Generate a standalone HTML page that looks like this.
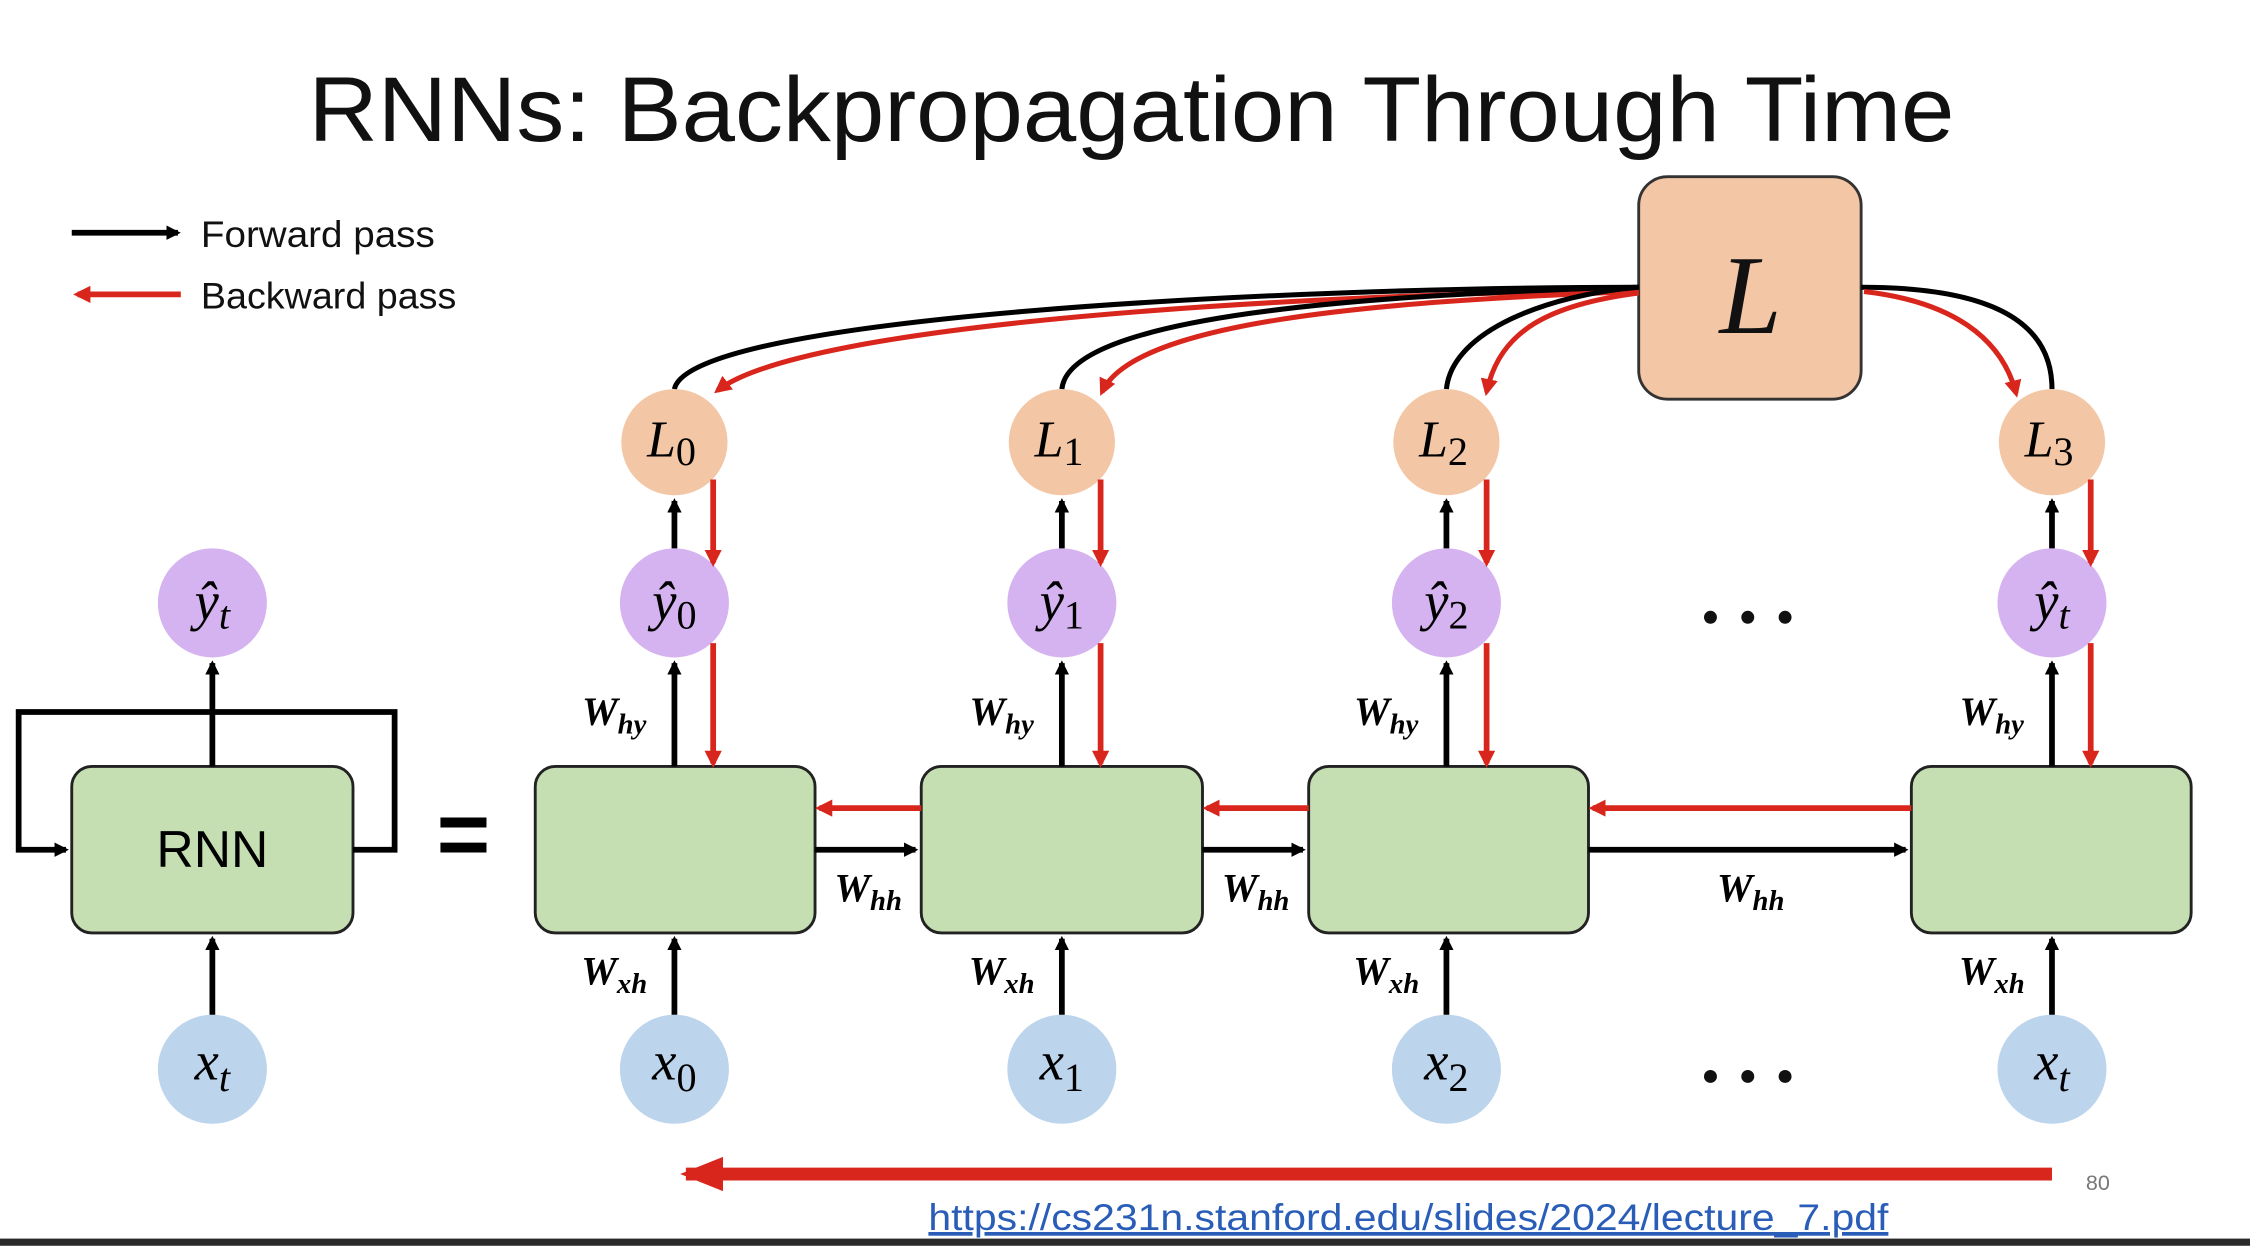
<!DOCTYPE html>
<html><head><meta charset="utf-8"><style>
html,body{margin:0;padding:0;background:#fff;}
svg{display:block;}
</style></head><body>
<svg width="2250" height="1246" viewBox="0 0 1568 868" xmlns="http://www.w3.org/2000/svg">
<defs>
<marker id="ab" markerWidth="10" markerHeight="10" refX="8" refY="5" orient="auto" markerUnits="userSpaceOnUse"><path d="M0,0 L10,5 L0,10 Z" fill="#000"/></marker>
<marker id="ar" markerWidth="12" markerHeight="12" refX="9" refY="6" orient="auto" markerUnits="userSpaceOnUse"><path d="M0,0 L12,6 L0,12 Z" fill="#d9261c"/></marker>
<marker id="arb" markerWidth="30" markerHeight="24" refX="26" refY="12" orient="auto" markerUnits="userSpaceOnUse"><path d="M0,0 L30,12 L0,24 Z" fill="#d9261c"/></marker>
</defs>
<text x="215" y="98" textLength="1147" lengthAdjust="spacingAndGlyphs" font-family="Liberation Sans, sans-serif" font-size="64" fill="#111">RNNs: Backpropagation Through Time</text>
<!-- legend -->
<line x1="50" y1="162" x2="124" y2="162" stroke="#000" stroke-width="4" marker-end="url(#ab)"/>
<text x="140" y="172" textLength="163" lengthAdjust="spacingAndGlyphs" font-family="Liberation Sans, sans-serif" font-size="26" fill="#111">Forward pass</text>
<line x1="126" y1="205" x2="54" y2="205" stroke="#d9261c" stroke-width="4" marker-end="url(#ar)"/>
<text x="140" y="215" textLength="178" lengthAdjust="spacingAndGlyphs" font-family="Liberation Sans, sans-serif" font-size="26" fill="#111">Backward pass</text>
<!-- L box -->
<rect x="1142" y="123" width="155" height="155" rx="20" fill="#f3c6a5" stroke="#333" stroke-width="2"/>
<text x="1220" y="232" font-family="Liberation Serif, serif" font-style="italic" font-size="78" text-anchor="middle" fill="#111">L</text>
<!-- curves -->
<g fill="none" stroke-width="3.5">
<path d="M470,271 C480,220 900,200 1142,200" stroke="#000"/>
<path d="M1142,202 C900,205 560,225 500,272" stroke="#d9261c" marker-end="url(#ar)"/>
<path d="M740,271 C745,220 950,205 1142,200" stroke="#000"/>
<path d="M1142,203 C950,210 790,225 768,273" stroke="#d9261c" marker-end="url(#ar)"/>
<path d="M1008,271 C1012,230 1080,205 1142,200" stroke="#000"/>
<path d="M1142,204 C1080,212 1045,230 1036,273" stroke="#d9261c" marker-end="url(#ar)"/>
<path d="M1297,200 C1380,200 1430,220 1430,271" stroke="#000"/>
<path d="M1299,203 C1360,210 1395,235 1405,274" stroke="#d9261c" marker-end="url(#ar)"/>
</g>
<!-- left RNN -->
<circle cx="148" cy="420" r="38" fill="#d5b3f0"/>
<text x="148" y="432" font-family="Liberation Serif, serif" font-style="italic" font-size="38" text-anchor="middle">ŷ<tspan font-size="28" dy="6">t</tspan></text>
<rect x="50" y="534" width="196" height="116" rx="14" fill="#c5dfb2" stroke="#222" stroke-width="2"/>
<text x="148" y="604" font-family="Liberation Sans, sans-serif" font-size="36" text-anchor="middle">RNN</text>
<circle cx="148" cy="745" r="38" fill="#bcd4ec"/>
<text x="148" y="752" font-family="Liberation Serif, serif" font-style="italic" font-size="38" text-anchor="middle">x<tspan font-size="28" dy="8">t</tspan></text>
<line x1="148" y1="534" x2="148" y2="462" stroke="#000" stroke-width="4" marker-end="url(#ab)"/>
<line x1="148" y1="707" x2="148" y2="654" stroke="#000" stroke-width="4" marker-end="url(#ab)"/>
<polyline points="246,592 275,592 275,496 13,496 13,592 46,592" fill="none" stroke="#000" stroke-width="4" marker-end="url(#ab)"/>
<text x="323" y="603" font-family="Liberation Sans, sans-serif" font-size="64" font-weight="bold" text-anchor="middle">=</text>
<!-- columns -->
<g font-family="Liberation Serif, serif" font-style="italic">
<circle cx="470" cy="308" r="37" fill="#f3c6a5"/>
<text x="468" y="318" font-size="36" text-anchor="middle">L<tspan font-size="28" font-style="normal" dy="6">0</tspan></text>
<circle cx="470" cy="420" r="38" fill="#d5b3f0"/>
<text x="470" y="432" font-size="38" text-anchor="middle">ŷ<tspan font-size="28" font-style="normal" dy="6">0</tspan></text>
<rect x="373" y="534" width="195" height="116" rx="14" fill="#c5dfb2" stroke="#222" stroke-width="2"/>
<circle cx="470" cy="745" r="38" fill="#bcd4ec"/>
<text x="470" y="752" font-size="38" text-anchor="middle">x<tspan font-size="28" font-style="normal" dy="8">0</tspan></text>
<circle cx="740" cy="308" r="37" fill="#f3c6a5"/>
<text x="738" y="318" font-size="36" text-anchor="middle">L<tspan font-size="28" font-style="normal" dy="6">1</tspan></text>
<circle cx="740" cy="420" r="38" fill="#d5b3f0"/>
<text x="740" y="432" font-size="38" text-anchor="middle">ŷ<tspan font-size="28" font-style="normal" dy="6">1</tspan></text>
<rect x="642" y="534" width="196" height="116" rx="14" fill="#c5dfb2" stroke="#222" stroke-width="2"/>
<circle cx="740" cy="745" r="38" fill="#bcd4ec"/>
<text x="740" y="752" font-size="38" text-anchor="middle">x<tspan font-size="28" font-style="normal" dy="8">1</tspan></text>
<circle cx="1008" cy="308" r="37" fill="#f3c6a5"/>
<text x="1006" y="318" font-size="36" text-anchor="middle">L<tspan font-size="28" font-style="normal" dy="6">2</tspan></text>
<circle cx="1008" cy="420" r="38" fill="#d5b3f0"/>
<text x="1008" y="432" font-size="38" text-anchor="middle">ŷ<tspan font-size="28" font-style="normal" dy="6">2</tspan></text>
<rect x="912" y="534" width="195" height="116" rx="14" fill="#c5dfb2" stroke="#222" stroke-width="2"/>
<circle cx="1008" cy="745" r="38" fill="#bcd4ec"/>
<text x="1008" y="752" font-size="38" text-anchor="middle">x<tspan font-size="28" font-style="normal" dy="8">2</tspan></text>
<circle cx="1430" cy="308" r="37" fill="#f3c6a5"/>
<text x="1428" y="318" font-size="36" text-anchor="middle">L<tspan font-size="28" font-style="normal" dy="6">3</tspan></text>
<circle cx="1430" cy="420" r="38" fill="#d5b3f0"/>
<text x="1430" y="432" font-size="38" text-anchor="middle">ŷ<tspan font-size="28" dy="6">t</tspan></text>
<rect x="1332" y="534" width="195" height="116" rx="14" fill="#c5dfb2" stroke="#222" stroke-width="2"/>
<circle cx="1430" cy="745" r="38" fill="#bcd4ec"/>
<text x="1430" y="752" font-size="38" text-anchor="middle">x<tspan font-size="28" dy="8">t</tspan></text>
</g>
<!-- vertical arrows -->
<g stroke-width="4">
<g stroke="#000">
<line x1="470" y1="707" x2="470" y2="654" marker-end="url(#ab)"/><line x1="470" y1="534" x2="470" y2="462" marker-end="url(#ab)"/><line x1="470" y1="382" x2="470" y2="349" marker-end="url(#ab)"/>
<line x1="740" y1="707" x2="740" y2="654" marker-end="url(#ab)"/><line x1="740" y1="534" x2="740" y2="462" marker-end="url(#ab)"/><line x1="740" y1="382" x2="740" y2="349" marker-end="url(#ab)"/>
<line x1="1008" y1="707" x2="1008" y2="654" marker-end="url(#ab)"/><line x1="1008" y1="534" x2="1008" y2="462" marker-end="url(#ab)"/><line x1="1008" y1="382" x2="1008" y2="349" marker-end="url(#ab)"/>
<line x1="1430" y1="707" x2="1430" y2="654" marker-end="url(#ab)"/><line x1="1430" y1="534" x2="1430" y2="462" marker-end="url(#ab)"/><line x1="1430" y1="382" x2="1430" y2="349" marker-end="url(#ab)"/>
<line x1="568" y1="592" x2="638" y2="592" marker-end="url(#ab)"/><line x1="838" y1="592" x2="908" y2="592" marker-end="url(#ab)"/><line x1="1107" y1="592" x2="1328" y2="592" marker-end="url(#ab)"/>
</g>
<g stroke="#d9261c">
<line x1="497" y1="334" x2="497" y2="392" marker-end="url(#ar)"/><line x1="497" y1="448" x2="497" y2="532" marker-end="url(#ar)"/>
<line x1="767" y1="334" x2="767" y2="392" marker-end="url(#ar)"/><line x1="767" y1="448" x2="767" y2="532" marker-end="url(#ar)"/>
<line x1="1036" y1="334" x2="1036" y2="392" marker-end="url(#ar)"/><line x1="1036" y1="448" x2="1036" y2="532" marker-end="url(#ar)"/>
<line x1="1457" y1="334" x2="1457" y2="392" marker-end="url(#ar)"/><line x1="1457" y1="448" x2="1457" y2="532" marker-end="url(#ar)"/>
<line x1="642" y1="563" x2="571" y2="563" marker-end="url(#ar)"/><line x1="912" y1="563" x2="841" y2="563" marker-end="url(#ar)"/><line x1="1332" y1="563" x2="1110" y2="563" marker-end="url(#ar)"/>
</g>
</g>
<!-- weight labels -->
<g font-family="Liberation Serif, serif" font-style="italic" font-weight="bold" font-size="28" text-anchor="middle">
<text x="428" y="505">W<tspan font-size="20" dy="6">hy</tspan></text>
<text x="698" y="505">W<tspan font-size="20" dy="6">hy</tspan></text>
<text x="966" y="505">W<tspan font-size="20" dy="6">hy</tspan></text>
<text x="1388" y="505">W<tspan font-size="20" dy="6">hy</tspan></text>
<text x="428" y="686">W<tspan font-size="20" dy="6">xh</tspan></text>
<text x="698" y="686">W<tspan font-size="20" dy="6">xh</tspan></text>
<text x="966" y="686">W<tspan font-size="20" dy="6">xh</tspan></text>
<text x="1388" y="686">W<tspan font-size="20" dy="6">xh</tspan></text>
<text x="605" y="628">W<tspan font-size="20" dy="6">hh</tspan></text>
<text x="875" y="628">W<tspan font-size="20" dy="6">hh</tspan></text>
<text x="1220" y="628">W<tspan font-size="20" dy="6">hh</tspan></text>
</g>
<g fill="#111"><circle cx="1192" cy="430" r="4.5"/><circle cx="1218" cy="430" r="4.5"/><circle cx="1244" cy="430" r="4.5"/>
<circle cx="1192" cy="750" r="4.5"/><circle cx="1218" cy="750" r="4.5"/><circle cx="1244" cy="750" r="4.5"/></g>
<line x1="1430" y1="818" x2="478" y2="818" stroke="#d9261c" stroke-width="9" marker-end="url(#arb)"/>
<text x="1462" y="829" font-family="Liberation Sans, sans-serif" font-size="15" fill="#777" text-anchor="middle">80</text>
<text x="647" y="857" textLength="669" lengthAdjust="spacingAndGlyphs" font-family="Liberation Sans, sans-serif" font-size="26" fill="#2a5db8" text-decoration="underline">https://cs231n.stanford.edu/slides/2024/lecture_7.pdf</text>
<rect x="0" y="863" width="1568" height="5" fill="#2a2a2a"/>
</svg>
</body></html>
